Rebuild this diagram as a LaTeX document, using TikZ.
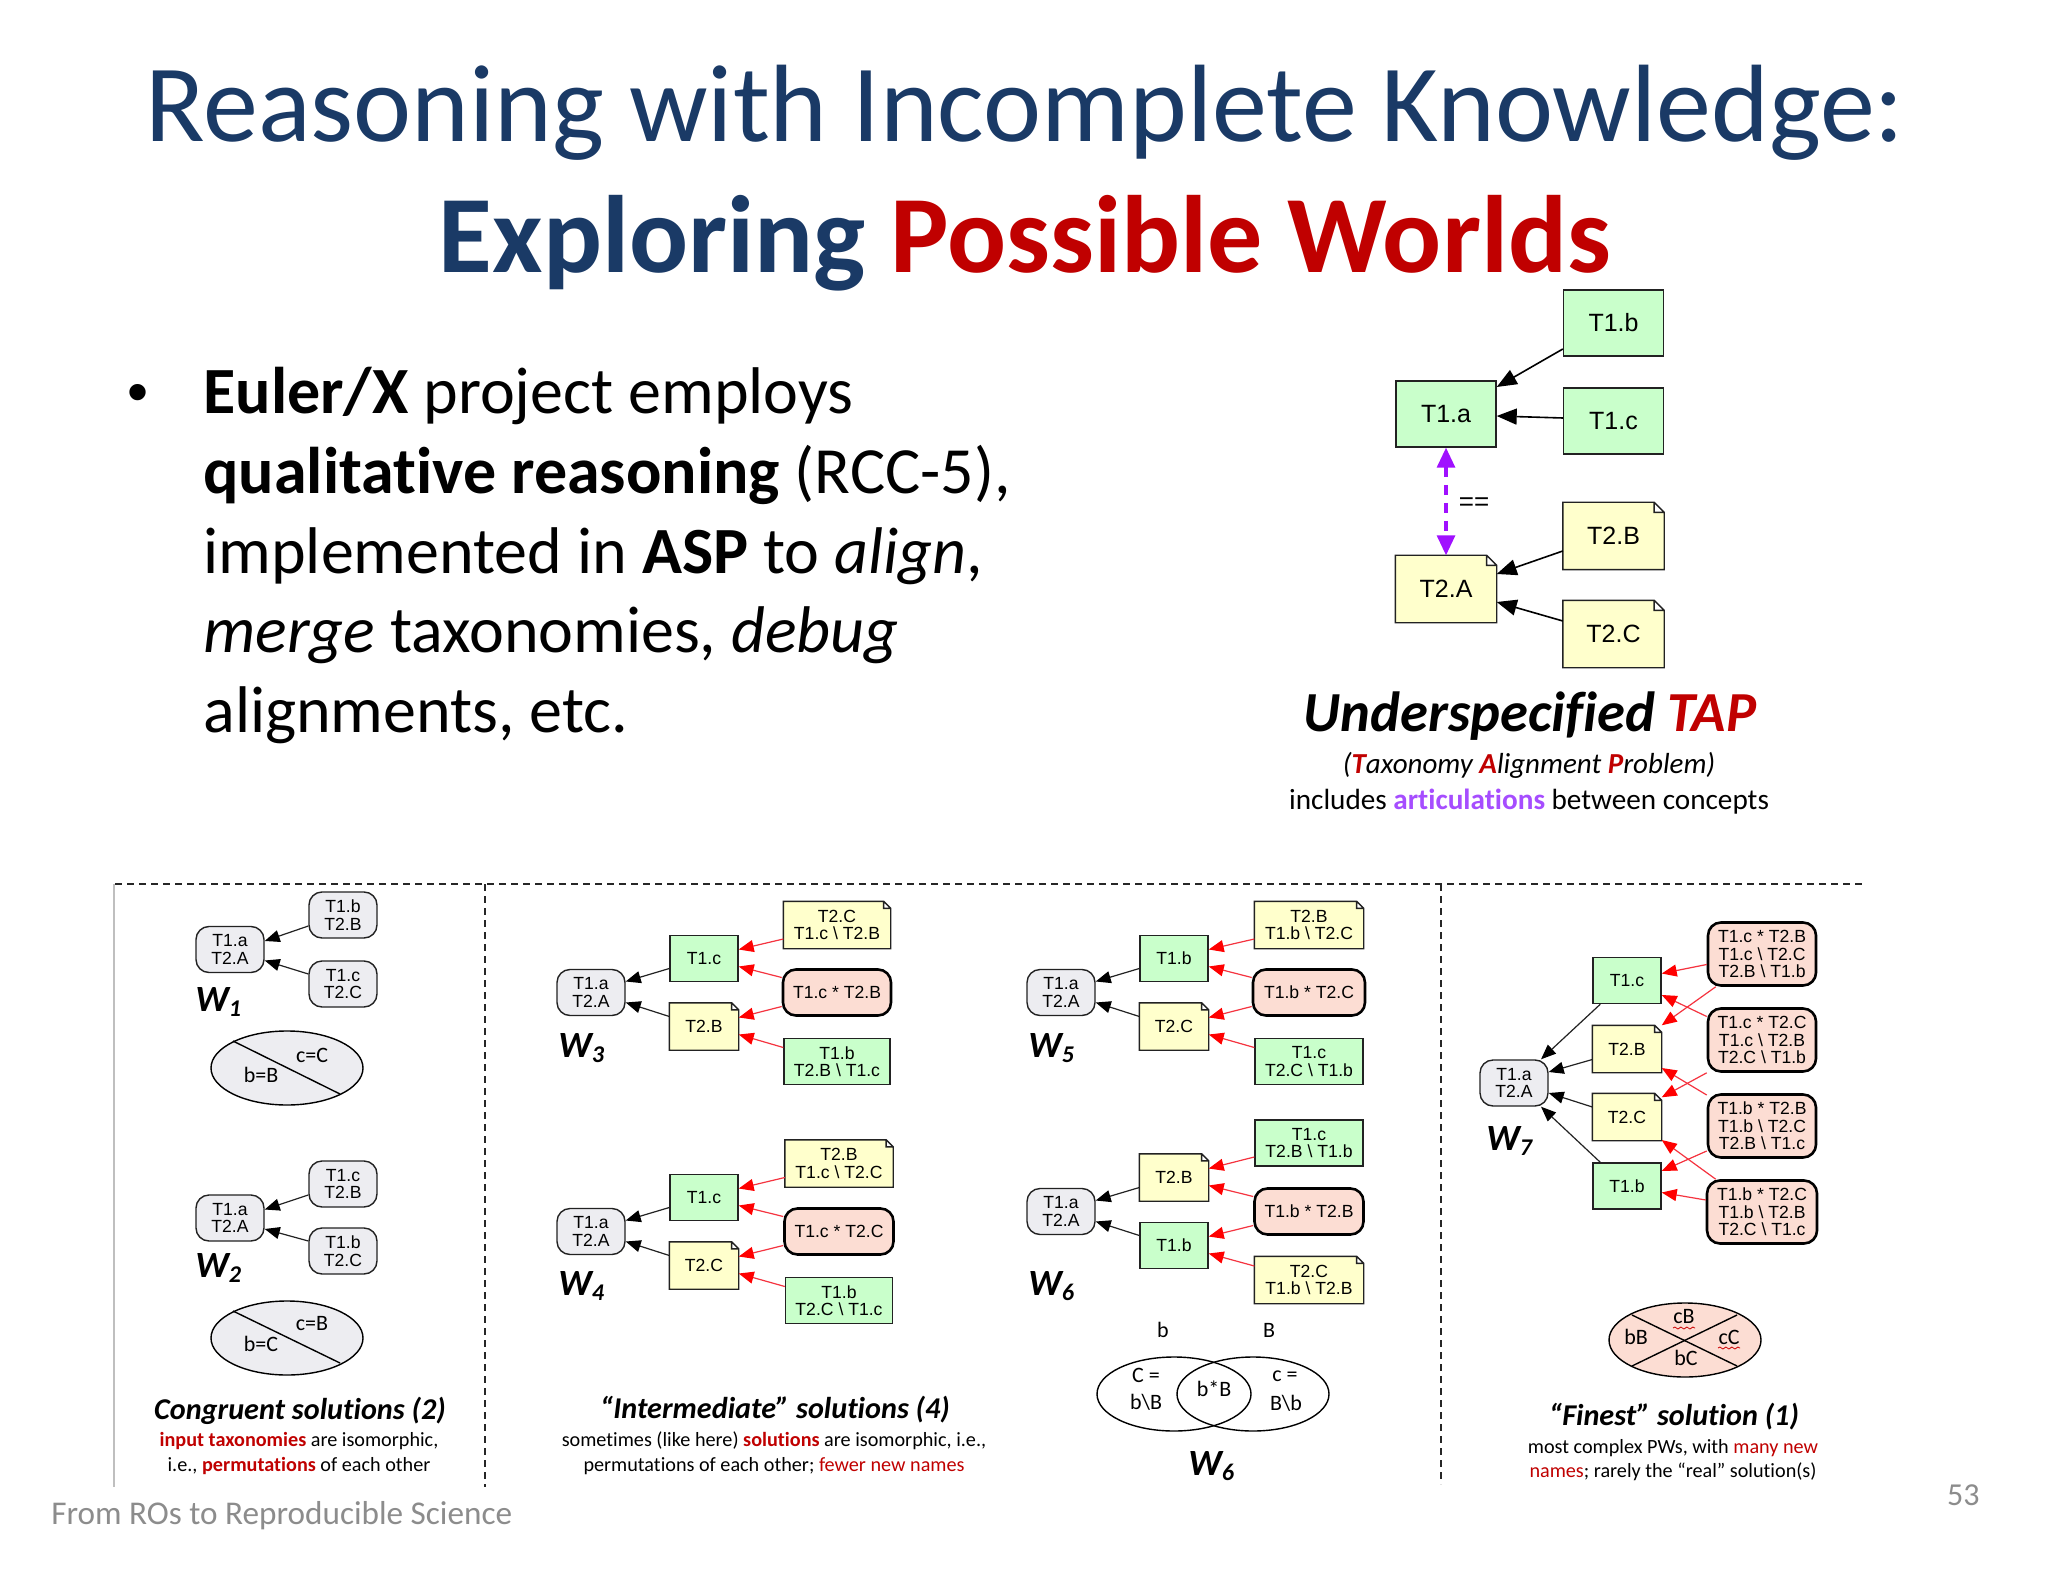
\documentclass[tikz,border=0pt]{standalone}
\usepackage{fontspec}
\setmainfont[Ligatures=NoCommon]{Carlito}
\newfontfamily\hv{Liberation Sans}
\usetikzlibrary{arrows.meta,calc,shapes.geometric,decorations.pathmorphing}
\makeatletter
\pgfdeclareshape{dognote}{
  \inheritsavedanchors[from=rectangle]
  \inheritanchorborder[from=rectangle]
  \inheritanchor[from=rectangle]{center}
  \inheritanchor[from=rectangle]{text}
  \inheritanchor[from=rectangle]{base}
  \inheritanchor[from=rectangle]{mid}
  \inheritanchor[from=rectangle]{north}
  \inheritanchor[from=rectangle]{south}
  \inheritanchor[from=rectangle]{west}
  \inheritanchor[from=rectangle]{east}
  \inheritanchor[from=rectangle]{north east}
  \inheritanchor[from=rectangle]{north west}
  \inheritanchor[from=rectangle]{south east}
  \inheritanchor[from=rectangle]{south west}
  \backgroundpath{
    \southwest \edef\dnxa{\the\pgf@x}\edef\dnya{\the\pgf@y}
    \northeast \edef\dnxb{\the\pgf@x}\edef\dnyb{\the\pgf@y}
    \pgf@y=\dnyb\relax \advance\pgf@y by -\dnya\relax \pgf@y=0.15\pgf@y
    \edef\dne{\the\pgf@y}
    \pgf@x=\dnxb\relax \advance\pgf@x by -\dne\relax \edef\dnxc{\the\pgf@x}
    \pgf@y=\dnyb\relax \advance\pgf@y by -\dne\relax \edef\dnyc{\the\pgf@y}
    \pgfpathmoveto{\pgfqpoint{\dnxa}{\dnya}}
    \pgfpathlineto{\pgfqpoint{\dnxa}{\dnyb}}
    \pgfpathlineto{\pgfqpoint{\dnxc}{\dnyb}}
    \pgfpathlineto{\pgfqpoint{\dnxb}{\dnyc}}
    \pgfpathlineto{\pgfqpoint{\dnxb}{\dnya}}
    \pgfpathclose
    \pgfpathmoveto{\pgfqpoint{\dnxc}{\dnyb}}
    \pgfpathlineto{\pgfqpoint{\dnxc}{\dnyc}}
    \pgfpathlineto{\pgfqpoint{\dnxb}{\dnyc}}
  }
}
\makeatother
\definecolor{titleblue}{HTML}{1A3A66}
\definecolor{darkred}{HTML}{C00000}
\definecolor{grnfill}{HTML}{C9FFCB}
\definecolor{yelfill}{HTML}{FFFFCC}
\definecolor{pinkfill}{HTML}{FCDDD3}
\definecolor{grayfill}{HTML}{EDEDF1}
\definecolor{purp}{HTML}{A010FF}
\definecolor{purptext}{HTML}{A64DFF}
\definecolor{foot}{HTML}{8C8C8C}
\definecolor{edgedk}{HTML}{222222}
\definecolor{edgered}{HTML}{F5333F}
\newcommand\bsl{\textbackslash}
\newcommand\wl[1]{{\fontsize{18.5}{18.5}\selectfont\bfseries\itshape W\raisebox{-2.5pt}{\fontsize{12}{12}\selectfont #1}}}
\newcommand\lnk[5]{\draw[#1] ([shift={(#3)}]#2) -- ([shift={(#5)}]#4);}
\newcommand\wlinks[1]{%
  \lnk{blk}{#1m1.west}{0,10}{#1c.east}{0,-11}
  \lnk{blk}{#1m2.west}{0,-10}{#1c.east}{0,10}
  \lnk{rd}{#1r1.west}{0,14}{#1m1.east}{0,-9}
  \lnk{rd}{#1r2.west}{0,-15}{#1m1.east}{0,8}
  \lnk{rd}{#1r2.west}{0,14}{#1m2.east}{0,-9}
  \lnk{rd}{#1r3.west}{0,-14}{#1m2.east}{0,8}}
\tikzset{
  base box/.style={inner sep=0pt,align=center,line width=0.7pt,draw=edgedk,font=\hv\fontsize{8.8}{8.7}\selectfont,minimum height=23pt,minimum width=34pt},
  gbox/.style={base box,fill=grnfill,rectangle},
  nbox/.style={base box,fill=yelfill,shape=dognote},
  wbox/.style={base box,fill=grayfill,rounded corners=6.5pt},
  pbox/.style={base box,fill=pinkfill,rounded corners=6.5pt,line width=1.3pt,draw=black},
  bigg/.style={gbox,minimum width=50pt,minimum height=33pt,font=\hv\fontsize{12.5}{13}\selectfont},
  bign/.style={nbox,minimum width=50pt,minimum height=33pt,font=\hv\fontsize{12.5}{13}\selectfont},
  blk/.style={-{Triangle[length=7.5pt,width=6pt,color=black]},line width=0.6pt,draw=edgedk},
  rd/.style={-{Triangle[length=7.5pt,width=6pt,color=red]},line width=0.6pt,draw=edgered},
  blkbig/.style={-{Triangle[length=10pt,width=8pt,color=black]},line width=0.8pt,draw=black},
  lbl/.style={inner sep=0pt,anchor=base},
  lblw/.style={inner sep=0pt,anchor=base west},
  ctr/.style={inner sep=0pt},
  divider/.style={dashed,dash pattern=on 3.5pt off 2.5pt,line width=0.6pt,draw=black!85},
  ell/.style={line width=0.7pt,draw=black},
  captitle/.style={inner sep=0pt,font=\fontsize{15.1}{15.1}\selectfont\bfseries\itshape},
  capsub/.style={inner sep=0pt,font=\fontsize{10.1}{10.1}\selectfont},
  elltext/.style={inner sep=0pt,font=\fontsize{11}{11}\selectfont},
  squig/.style={draw=red!80!black,line width=0.4pt,decorate,decoration={snake,amplitude=0.5pt,segment length=3pt}},
}
\begin{document}
\begin{tikzpicture}[x=0.5pt,y=-0.5pt]
\useasboundingbox (0,0) rectangle (2048,1582);
\fill[white] (0,0) rectangle (2048,1582);

% Title
\node[lbl,font=\fontsize{55}{55}\selectfont,text=titleblue] (title1) at (1025,142) {Reasoning with Incomplete Knowledge:};
\node[lbl,font=\fontsize{55}{55}\selectfont\bfseries] (title2) at (1025,273) {\textcolor{titleblue}{Exploring} \textcolor{darkred}{Possible Worlds}};

% Bullet text
\node[lbl,font=\hv\fontsize{30}{30}\selectfont] (bull) at (138,413) {•};
\node[lblw,font=\fontsize{33}{33}\selectfont] (l1) at (203,414) {\textbf{Euler/X} project employs};
\node[lblw,font=\fontsize{33}{33}\selectfont] (l2) at (203,494) {\textbf{qualitative reasoning} (RCC-5),};
\node[lblw,font=\fontsize{33}{33}\selectfont] (l3) at (203,574) {implemented in \textbf{ASP} to \textit{align},};
\node[lblw,font=\fontsize{33}{33}\selectfont] (l4) at (203,652) {\textit{merge} taxonomies, \textit{debug}};
\node[lblw,font=\fontsize{33}{33}\selectfont] (l5) at (203,732) {alignments, etc.};

% Underspecified TAP graph
\node[bigg] (Tb) at (1613.5,323) {T1.b};
\node[bigg] (Ta) at (1446,414) {T1.a};
\node[bigg] (Tc) at (1613.5,421) {T1.c};
\node[bign] (TB) at (1613.5,536) {T2.B};
\node[bign] (TA) at (1446,589) {T2.A};
\node[bign] (TC) at (1613.5,634) {T2.C};
\lnk{blkbig}{Tb.west}{0,26}{Ta.east}{0,-27}
\lnk{blkbig}{Tc.west}{0,-3}{Ta.east}{0,2}
\lnk{blkbig}{TB.west}{0,15}{TA.east}{0,-15}
\lnk{blkbig}{TC.west}{0,-13}{TA.east}{0,13}
\draw[{Triangle[length=10pt,width=9pt]}-{Triangle[length=10pt,width=9pt]},color=purp,line width=1.6pt,dash pattern=on 5pt off 4pt] (Ta.south) -- (TA.north);
\node[ctr,font=\hv\fontsize{13}{13}\selectfont] (eqeq) at (1474,504) {==};
\node[lbl,font=\fontsize{28.3}{28.3}\selectfont\bfseries\itshape] (under) at (1530,731) {Underspecified \textcolor{darkred}{TAP}};
\node[lbl,font=\fontsize{14.5}{14.5}\selectfont\itshape] (taxo) at (1529,773) {(\textcolor{darkred}{\textbf{T}}axonomy \textcolor{darkred}{\textbf{A}}lignment \textcolor{darkred}{\textbf{P}}roblem)};
\node[lbl,font=\fontsize{14.6}{14.6}\selectfont] (incl) at (1529,809) {includes \textcolor{purptext}{\textbf{articulations}} between concepts};

% Dividers
\coordinate (hL) at (115,884);
\coordinate (hR) at (1864,884);
\coordinate (v1t) at (485,884);
\coordinate (v1b) at (485,1487);
\coordinate (v2t) at (1441,884);
\coordinate (v2b) at (1441,1484);
\coordinate (v0t) at (114,884);
\coordinate (v0b) at (114,1487);
\draw[divider] (hL) -- (hR);
\draw[divider] (v1t) -- (v1b);
\draw[divider] (v2t) -- (v2b);
\draw[line width=0.6pt,draw=black!25] (v0t) -- (v0b);

% W1
\node[wbox] (W1c) at (230,949.5) {T1.a\\T2.A};
\node[wbox] (W1a) at (343,915) {T1.b\\T2.B};
\node[wbox] (W1b) at (343,984) {T1.c\\T2.C};
\lnk{blk}{W1a.west}{0,11}{W1c.east}{0,-8.5}
\lnk{blk}{W1b.west}{0,-10}{W1c.east}{0,11}
\node[lblw] (W1l) at (195,1011) {\wl{1}};
\filldraw[ell,fill=grayfill] (287,1068) ellipse [x radius=76,y radius=37];
\draw[ell] (233,1041) -- (340,1094);
\node[elltext] (W1e1) at (312,1055) {c=C};
\node[elltext] (W1e2) at (261,1075) {b=B};

% W2
\node[wbox] (W2c) at (230,1218) {T1.a\\T2.A};
\node[wbox] (W2a) at (343,1184) {T1.c\\T2.B};
\node[wbox] (W2b) at (343,1251) {T1.b\\T2.C};
\lnk{blk}{W2a.west}{0,11}{W2c.east}{0,-8.5}
\lnk{blk}{W2b.west}{0,-10}{W2c.east}{0,11}
\node[lblw] (W2l) at (195,1277) {\wl{2}};
\filldraw[ell,fill=grayfill] (287,1338) ellipse [x radius=76,y radius=37];
\draw[ell] (233,1311) -- (340,1363);
\node[elltext] (W2e1) at (312,1324) {c=B};
\node[elltext] (W2e2) at (261,1344) {b=C};

% Caption 1
\node[captitle] (cap1) at (300,1411) {Congruent solutions (2)};
\node[capsub] (cap1a) at (299,1441) {\textcolor{darkred}{\textbf{input taxonomies}} are isomorphic,};
\node[capsub] (cap1b) at (299,1466) {i.e., \textcolor{darkred}{\textbf{permutations}} of each other};

% W3
\node[wbox] (W3c) at (591,992.5) {T1.a\\T2.A};
\node[gbox] (W3m1) at (704,958.5) {T1.c};
\node[nbox] (W3m2) at (704,1026.5) {T2.B};
\node[nbox,minimum width=53pt] (W3r1) at (837,925) {T2.C\\T1.c \bsl{} T2.B};
\node[pbox,minimum width=54pt] (W3r2) at (837,992.5) {T1.c * T2.B};
\node[gbox,minimum width=53pt] (W3r3) at (837,1061.5) {T1.b\\T2.B \bsl{} T1.c};
\wlinks{W3}
\node[lblw] (W3l) at (558,1057) {\wl{3}};

% W4
\node[wbox] (W4c) at (591,1231.5) {T1.a\\T2.A};
\node[gbox] (W4m1) at (704,1197.5) {T1.c};
\node[nbox] (W4m2) at (704,1265.5) {T2.C};
\node[nbox,minimum width=53.5pt] (W4r1) at (839,1163.5) {T2.B\\T1.c \bsl{} T2.C};
\node[pbox,minimum width=54.5pt] (W4r2) at (839,1231.5) {T1.c * T2.C};
\node[gbox,minimum width=53.5pt] (W4r3) at (839,1300.5) {T1.b\\T2.C \bsl{} T1.c};
\wlinks{W4}
\node[lblw] (W4l) at (558,1295) {\wl{4}};

% Caption 2
\node[captitle] (cap2) at (775,1410) {“Intermediate” solutions (4)};
\node[capsub] (cap2a) at (774,1441) {sometimes (like here) \textcolor{darkred}{\textbf{solutions}} are isomorphic, i.e.,};
\node[capsub] (cap2b) at (774,1466) {permutations of each other; \textcolor{darkred}{fewer new names}};

% W5
\node[wbox] (W5c) at (1061,992.5) {T1.a\\T2.A};
\node[gbox] (W5m1) at (1174,958.5) {T1.b};
\node[nbox] (W5m2) at (1174,1026.5) {T2.C};
\node[nbox,minimum width=54pt] (W5r1) at (1309,925) {T2.B\\T1.b \bsl{} T2.C};
\node[pbox,minimum width=56pt] (W5r2) at (1309,992.5) {T1.b * T2.C};
\node[gbox,minimum width=54pt] (W5r3) at (1309,1061.5) {T1.c\\T2.C \bsl{} T1.b};
\wlinks{W5}
\node[lblw] (W5l) at (1028,1057) {\wl{5}};

% W6
\node[wbox] (W6c) at (1061,1211.5) {T1.a\\T2.A};
\node[nbox] (W6m1) at (1174,1177.5) {T2.B};
\node[gbox] (W6m2) at (1174,1245.5) {T1.b};
\node[gbox,minimum width=54pt] (W6r1) at (1309,1143) {T1.c\\T2.B \bsl{} T1.b};
\node[pbox,minimum width=54.5pt] (W6r2) at (1309,1211.5) {T1.b * T2.B};
\node[nbox,minimum width=54pt] (W6r3) at (1309,1280) {T2.C\\T1.b \bsl{} T2.B};
\wlinks{W6}
\node[lblw] (W6l) at (1028,1295) {\wl{6}};

% Venn
\node[elltext] (vb) at (1163,1330) {b};
\node[elltext] (vB) at (1269,1330) {B};
\draw[ell] (1174,1394) ellipse [x radius=77,y radius=37];
\draw[ell] (1253,1394) ellipse [x radius=76,y radius=37];
\node[elltext] (v1) at (1146,1375) {C =};
\node[elltext] (v2) at (1146,1402) {b\bsl{}B};
\node[elltext] (v3) at (1214,1389) {b*B};
\node[elltext] (v4) at (1285,1376) {c =};
\node[elltext] (v5) at (1286,1403) {B\bsl{}b};
\node[lblw] (W6v) at (1188,1475) {\wl{6}};

% W7
\node[wbox] (W7c) at (1514,1083) {T1.a\\T2.A};
\node[gbox] (W7t1) at (1627,980.5) {T1.c};
\node[nbox] (W7t2) at (1627,1049) {T2.B};
\node[nbox] (W7t3) at (1627,1117) {T2.C};
\node[gbox] (W7t4) at (1627,1186) {T1.b};
\node[pbox,minimum width=54pt,minimum height=31.5pt] (P1) at (1762,954) {T1.c * T2.B\\T1.c \bsl{} T2.C\\T2.B \bsl{} T1.b};
\node[pbox,minimum width=54pt,minimum height=31.5pt] (P2) at (1762,1040) {T1.c * T2.C\\T1.c \bsl{} T2.B\\T2.C \bsl{} T1.b};
\node[pbox,minimum width=54pt,minimum height=31.5pt] (P3) at (1762,1126) {T1.b * T2.B\\T1.b \bsl{} T2.C\\T2.B \bsl{} T1.c};
\node[pbox,minimum width=55pt,minimum height=31.5pt] (P4) at (1762,1212) {T1.b * T2.C\\T1.b \bsl{} T2.B\\T2.C \bsl{} T1.c};
\lnk{blk}{W7t1.south west}{8,0}{W7c.north}{27,0}
\lnk{blk}{W7t2.west}{0,10.5}{W7c.east}{0,-11}
\lnk{blk}{W7t3.west}{0,-10}{W7c.east}{0,10}
\lnk{blk}{W7t4.north west}{8,0}{W7c.south}{27,0}
\lnk{rd}{P1.west}{0,10.5}{W7t1.east}{0,-7}
\lnk{rd}{P1.south west}{9,0}{W7t2.north east}{0,0}
\lnk{rd}{P2.west}{0,-23.5}{W7t1.east}{0,14.5}
\lnk{rd}{P2.south west}{0,0}{W7t3.north east}{0,4}
\lnk{rd}{P3.west}{0,-31}{W7t2.east}{0,19}
\lnk{rd}{P3.west}{0,25}{W7t4.east}{0,-15}
\lnk{rd}{P4.north west}{10,0}{W7t3.east}{0,23}
\lnk{rd}{P4.west}{0,-12}{W7t4.east}{0,6.5}
\node[lblw] (W7l) at (1486,1150) {\wl{7}};
\filldraw[ell,fill=pinkfill] (1685,1340) ellipse [x radius=76,y radius=37];
\draw[ell] (1632,1315) -- (1737,1366);
\draw[ell] (1737,1315) -- (1632,1366);
\node[elltext] (q1) at (1684,1317) {cB};
\node[elltext] (q2) at (1636,1336.5) {bB};
\node[elltext] (q3) at (1729,1337) {cC};
\node[elltext] (q4) at (1686,1358) {bC};
\coordinate (s1a) at (1673,1328);
\coordinate (s1b) at (1695,1328);
\coordinate (s2a) at (1718,1348);
\coordinate (s2b) at (1740,1348);
\draw[squig] (s1a) -- (s1b);
\draw[squig] (s2a) -- (s2b);

% Caption 3
\node[captitle] (cap3) at (1674,1416.5) {“Finest” solution (1)};
\node[capsub] (cap3a) at (1673,1448) {most complex PWs, with \textcolor{darkred}{many new}};
\node[capsub] (cap3b) at (1673,1472) {\textcolor{darkred}{names}; rarely the “real” solution(s)};

% Footer
\node[lblw,text=foot,font=\fontsize{16.6}{16.6}\selectfont] (footL) at (51,1524) {From ROs to Reproducible Science};
\node[inner sep=0pt,anchor=base east,text=foot,font=\fontsize{16}{16}\selectfont] (pnum) at (1980,1505) {53};
\end{tikzpicture}
\end{document}
